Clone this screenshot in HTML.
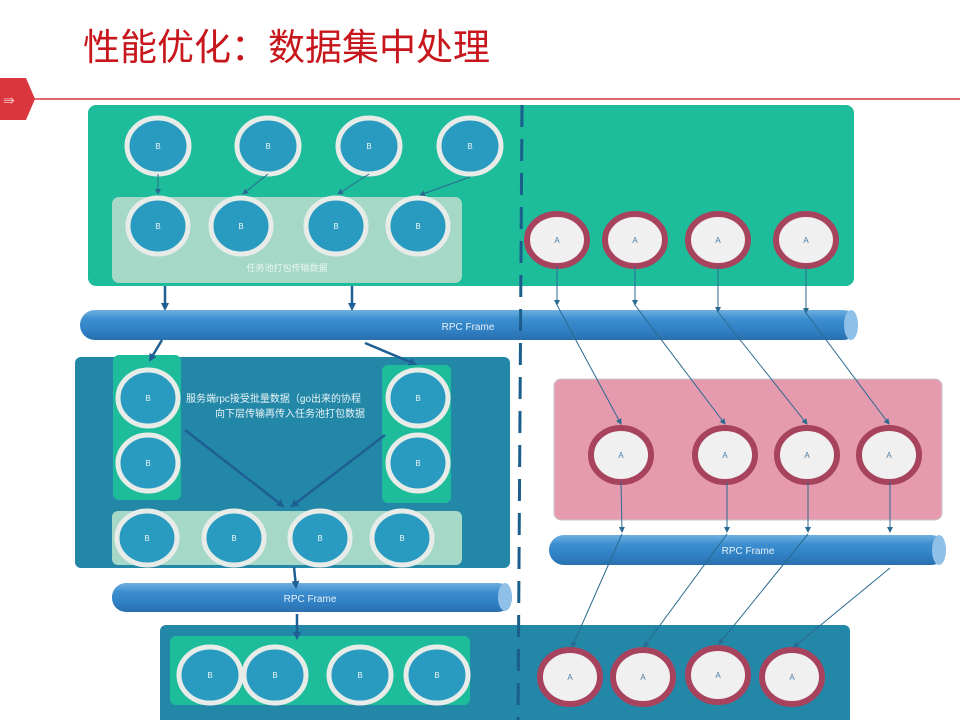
<!DOCTYPE html>
<html><head><meta charset="utf-8"><style>html,body{margin:0;padding:0;background:#fff;}svg{display:block}</style></head>
<body>
<svg width="960" height="720" viewBox="0 0 960 720" xmlns="http://www.w3.org/2000/svg" font-family="Liberation Sans, Noto Sans CJK SC, sans-serif">
<defs>
<linearGradient id="pipe" x1="0" y1="0" x2="0" y2="1">
<stop offset="0" stop-color="#6fb0e0"/><stop offset="0.3" stop-color="#3d8fd0"/><stop offset="0.7" stop-color="#2f7fc2"/><stop offset="1" stop-color="#2a6fae"/></linearGradient>
<marker id="ah" markerWidth="8" markerHeight="8" refX="6" refY="4" orient="auto" markerUnits="userSpaceOnUse"><path d="M0,0 L8,4 L0,8 z" fill="#1e5f94"/></marker>
<marker id="ahs" markerWidth="6" markerHeight="6" refX="5" refY="3" orient="auto" markerUnits="userSpaceOnUse"><path d="M0,0 L6,3 L0,6 z" fill="#2b6a90"/></marker>
</defs>
<text x="83" y="60" font-size="37" fill="#c8161d" font-family="Liberation Sans, Noto Sans CJK SC, sans-serif">性能优化：数据集中处理</text>
<line x1="30" y1="99" x2="960" y2="99" stroke="#d9363e" stroke-width="1.5"/>
<polygon points="0,78 26,78 35,99 26,120 0,120" fill="#d9363e"/>
<text x="3" y="105" font-size="14" fill="#f5c0c0">⇛</text>

<rect x="88" y="105" width="766" height="181" rx="8" fill="#1dbc9a"/>
<rect x="112" y="197" width="350" height="86" rx="7" fill="#a6d8c8"/>
<text x="287" y="271" font-size="9" fill="#e8f6f1" text-anchor="middle">任务池打包传输数据</text>

<rect x="554" y="379" width="388" height="141" rx="7" fill="#e59aae" stroke="#c8c8c8"/>
<rect x="75" y="357" width="435" height="211" rx="6" fill="#2387a8"/>
<rect x="113" y="355" width="68" height="145" rx="6" fill="#1dbc9a"/>
<rect x="382" y="365" width="69" height="138" rx="6" fill="#1dbc9a"/>
<rect x="112" y="511" width="350" height="54" rx="6" fill="#a6d8c8"/>
<rect x="160" y="625" width="690" height="100" rx="6" fill="#2387a8"/>
<rect x="170" y="636" width="300" height="69" rx="6" fill="#1dbc9a"/>

<g>
<rect x="80" y="310" width="778" height="30" rx="15" fill="url(#pipe)"/>
<ellipse cx="851" cy="325" rx="7" ry="15" fill="#8ec0e8"/>
<text x="468" y="330" font-size="10" fill="#e6f0fa" text-anchor="middle">RPC  Frame</text>
<rect x="112" y="583" width="400" height="29" rx="14" fill="url(#pipe)"/>
<ellipse cx="505" cy="597" rx="7" ry="14" fill="#8ec0e8"/>
<text x="310" y="602" font-size="10" fill="#e6f0fa" text-anchor="middle">RPC  Frame</text>
<rect x="549" y="535" width="397" height="30" rx="15" fill="url(#pipe)"/>
<ellipse cx="939" cy="550" rx="7" ry="15" fill="#8ec0e8"/>
<text x="748" y="554" font-size="10" fill="#e6f0fa" text-anchor="middle">RPC  Frame</text>
</g>

<line x1="522" y1="105" x2="518" y2="720" stroke="#1b5e8c" stroke-width="3" stroke-dasharray="22,12"/>

<g fill="#2a9bc0" stroke="#e8ece8" stroke-width="5">
<ellipse cx="158" cy="146" rx="31" ry="28"/><ellipse cx="268" cy="146" rx="31" ry="28"/><ellipse cx="369" cy="146" rx="31" ry="28"/><ellipse cx="470" cy="146" rx="31" ry="28"/>
<ellipse cx="158" cy="226" rx="30" ry="28"/><ellipse cx="241" cy="226" rx="30" ry="28"/><ellipse cx="336" cy="226" rx="30" ry="28"/><ellipse cx="418" cy="226" rx="30" ry="28"/>
<ellipse cx="148" cy="398" rx="30" ry="28"/><ellipse cx="148" cy="463" rx="30" ry="28"/><ellipse cx="418" cy="398" rx="30" ry="28"/><ellipse cx="418" cy="463" rx="30" ry="28"/>
<ellipse cx="147" cy="538" rx="30" ry="27"/><ellipse cx="234" cy="538" rx="30" ry="27"/><ellipse cx="320" cy="538" rx="30" ry="27"/><ellipse cx="402" cy="538" rx="30" ry="27"/>
<ellipse cx="210" cy="675" rx="31" ry="28"/><ellipse cx="275" cy="675" rx="31" ry="28"/><ellipse cx="360" cy="675" rx="31" ry="28"/><ellipse cx="437" cy="675" rx="31" ry="28"/>
</g>
<g font-size="8" fill="#e8f4f8" text-anchor="middle">
<text x="158" y="149">B</text><text x="268" y="149">B</text><text x="369" y="149">B</text><text x="470" y="149">B</text>
<text x="158" y="229">B</text><text x="241" y="229">B</text><text x="336" y="229">B</text><text x="418" y="229">B</text>
<text x="148" y="401">B</text><text x="148" y="466">B</text><text x="418" y="401">B</text><text x="418" y="466">B</text>
<text x="147" y="541">B</text><text x="234" y="541">B</text><text x="320" y="541">B</text><text x="402" y="541">B</text>
<text x="210" y="678">B</text><text x="275" y="678">B</text><text x="360" y="678">B</text><text x="437" y="678">B</text>
</g>

<g fill="#f0f0f0" stroke="#a8435e" stroke-width="6">
<ellipse cx="557" cy="240" rx="30" ry="26"/><ellipse cx="635" cy="240" rx="30" ry="26"/><ellipse cx="718" cy="240" rx="30" ry="26"/><ellipse cx="806" cy="240" rx="30" ry="26"/>
<ellipse cx="621" cy="455" rx="30" ry="27"/><ellipse cx="725" cy="455" rx="30" ry="27"/><ellipse cx="807" cy="455" rx="30" ry="27"/><ellipse cx="889" cy="455" rx="30" ry="27"/>
<ellipse cx="570" cy="677" rx="30" ry="27"/><ellipse cx="643" cy="677" rx="30" ry="27"/><ellipse cx="718" cy="675" rx="30" ry="27"/><ellipse cx="792" cy="677" rx="30" ry="27"/>
</g>
<g font-size="8" fill="#4a7ea8" text-anchor="middle">
<text x="557" y="243">A</text><text x="635" y="243">A</text><text x="718" y="243">A</text><text x="806" y="243">A</text>
<text x="621" y="458">A</text><text x="725" y="458">A</text><text x="807" y="458">A</text><text x="889" y="458">A</text>
<text x="570" y="680">A</text><text x="643" y="680">A</text><text x="718" y="678">A</text><text x="792" y="680">A</text>
</g>

<text x="186" y="402" font-size="10" fill="#e8f4f8">服务端rpc接受批量数据（go出来的协程</text>
<text x="290" y="417" font-size="10" fill="#e8f4f8" text-anchor="middle">向下层传输再传入任务池打包数据</text>

<g stroke="#1e5f94" stroke-width="2.5" marker-end="url(#ah)" fill="none">
<line x1="165" y1="286" x2="165" y2="309"/>
<line x1="352" y1="286" x2="352" y2="309"/>
<line x1="162" y1="340" x2="150" y2="360"/>
<line x1="365" y1="343" x2="415" y2="364"/>
<line x1="185" y1="430" x2="283" y2="506"/>
<line x1="385" y1="435" x2="292" y2="506"/>
<line x1="294" y1="567" x2="296" y2="587"/>
<line x1="297" y1="614" x2="297" y2="638"/>
</g>
<g stroke="#2b6a90" stroke-width="1" marker-end="url(#ahs)" fill="none">
<line x1="158" y1="174" x2="158" y2="194"/>
<line x1="268" y1="174" x2="243" y2="194"/>
<line x1="369" y1="174" x2="338" y2="194"/>
<line x1="470" y1="177" x2="420" y2="195"/>
<line x1="557" y1="266" x2="557" y2="305"/>
<line x1="635" y1="266" x2="635" y2="305"/>
<line x1="718" y1="266" x2="718" y2="312"/>
<line x1="806" y1="266" x2="806" y2="313"/>
<line x1="557" y1="305" x2="621" y2="424"/>
<line x1="635" y1="305" x2="725" y2="424"/>
<line x1="718" y1="312" x2="807" y2="424"/>
<line x1="806" y1="313" x2="889" y2="424"/>
<line x1="621" y1="482" x2="622" y2="532"/>
<line x1="727" y1="482" x2="727" y2="532"/>
<line x1="808" y1="482" x2="808" y2="532"/>
<line x1="890" y1="482" x2="890" y2="532"/>
<line x1="622" y1="534" x2="572" y2="647"/>
<line x1="727" y1="534" x2="644" y2="647"/>
<line x1="808" y1="534" x2="719" y2="644"/>
<line x1="890" y1="568" x2="794" y2="647"/>
</g>
</svg>
</body></html>
